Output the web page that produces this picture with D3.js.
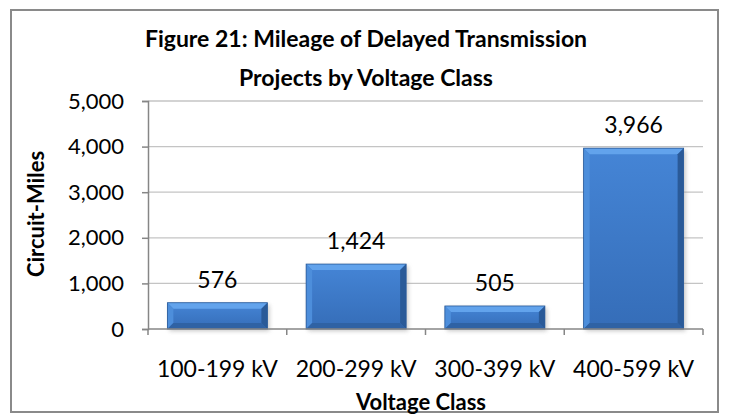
<!DOCTYPE html>
<html><head><meta charset="utf-8">
<script src="https://cdn.jsdelivr.net/npm/d3@7"></script>
<style>
html,body{margin:0;padding:0;background:#fff;}
text{font-family:Lato,"Open Sans",sans-serif;fill:#000;}
</style></head>
<body>
<svg id="chart" width="731" height="416"></svg>
<script>
const categories = ["100-199 kV","200-299 kV","300-399 kV","400-599 kV"];
const values = [576, 1424, 505, 3966];
const yTicks = [0,1000,2000,3000,4000,5000];
const titleLines = ["Figure 21: Mileage of Delayed Transmission","Projects by Voltage Class"];
const xTitle = "Voltage Class";
const yTitle = "Circuit-Miles";

const svg = d3.select("#chart");
const plot = {left:148, right:703, top:101, bottom:329};
const fmt = d3.format(",");

// chart border
svg.append("rect").attr("x",11).attr("y",10).attr("width",707).attr("height",402)
  .attr("fill","#fff").attr("stroke","#8a8a8a").attr("stroke-width",2);

const defs = svg.append("defs");
const g1 = defs.append("linearGradient").attr("id","body").attr("x1",0).attr("y1",0).attr("x2",0).attr("y2",1);
g1.append("stop").attr("offset","0%").attr("stop-color","#4585D6");
g1.append("stop").attr("offset","100%").attr("stop-color","#356DB8");
const f = defs.append("filter").attr("id","shadow").attr("x","-20%").attr("y","-20%").attr("width","140%").attr("height","160%");
f.append("feGaussianBlur").attr("stdDeviation",2.2);

const x = d3.scaleBand().domain(categories).range([plot.left, plot.right]).paddingInner(0.2793).paddingOuter(0.1397);
const y = d3.scaleLinear().domain([0,5000]).range([plot.bottom, plot.top]);

// gridlines
svg.append("g").selectAll("line").data(yTicks.filter(t=>t>0)).join("line")
  .attr("x1",plot.left).attr("x2",plot.right)
  .attr("y1",d=>y(d)).attr("y2",d=>y(d))
  .attr("stroke","#c4c4c4").attr("stroke-width",1.3);

// y axis
const yAxis = svg.append("g").attr("transform",`translate(${plot.left},0)`)
  .call(d3.axisLeft(y).tickValues(yTicks).tickFormat(fmt).tickSize(6).tickPadding(18));
yAxis.select(".domain").attr("stroke","#868686").attr("stroke-width",1.5);
yAxis.selectAll(".tick line").attr("stroke","#868686").attr("stroke-width",1.5);
yAxis.selectAll("text").attr("font-family","Lato").attr("font-size",22).attr("fill","#000");

// bars
const data = categories.map((c,i)=>({cat:c, value:values[i]}));
const bars = svg.append("g").selectAll("g").data(data).join("g");
bars.append("rect")
  .attr("x",d=>x(d.cat)+2).attr("y",d=>y(d.value)+2)
  .attr("width",x.bandwidth()).attr("height",d=>y(0)-y(d.value))
  .attr("fill","#9a9a9a").attr("opacity",0.55).attr("filter","url(#shadow)");
bars.append("rect")
  .attr("x",d=>x(d.cat)).attr("y",d=>y(d.value))
  .attr("width",x.bandwidth()).attr("height",d=>y(0)-y(d.value))
  .attr("fill","url(#body)");
const b = 6;
function poly(d, which){
  const x0 = x(d.cat), x1 = x0 + x.bandwidth(), y0 = y(d.value), y1 = y(0);
  const bb = Math.min(b, (y1-y0)/2);
  if (which==="top") return [[x0,y0],[x1,y0],[x1-bb,y0+bb],[x0+bb,y0+bb]];
  if (which==="left") return [[x0,y0],[x0+bb,y0+bb],[x0+bb,y1-bb],[x0,y1]];
  if (which==="right") return [[x1,y0],[x1,y1],[x1-bb,y1-bb],[x1-bb,y0+bb]];
  return [[x0,y1],[x0+bb,y1-bb],[x1-bb,y1-bb],[x1,y1]];
}
const bevel = {top:"#62A3EC", left:"#4D8EDB", right:"#2A5A98", bottom:"#2F62A4"};
Object.keys(bevel).forEach(k=>{
  bars.append("polygon").attr("points",d=>poly(d,k).map(p=>p.join(",")).join(" "))
    .attr("fill",bevel[k]);
});
bars.append("rect")
  .attr("x",d=>x(d.cat)).attr("y",d=>y(d.value))
  .attr("width",x.bandwidth()).attr("height",d=>y(0)-y(d.value))
  .attr("fill","none").attr("stroke","#2A5A98").attr("stroke-width",0.8);

// x axis
svg.append("line").attr("x1",plot.left).attr("x2",plot.right).attr("y1",y(0)).attr("y2",y(0))
  .attr("stroke","#868686").attr("stroke-width",1.5);
const bounds = categories.map(c=>x(c)-x.step()*x.paddingInner()/2).concat([plot.right]);
svg.append("g").selectAll("line").data(bounds).join("line")
  .attr("x1",d=>d).attr("x2",d=>d).attr("y1",y(0)).attr("y2",y(0)+6)
  .attr("stroke","#868686").attr("stroke-width",1.5);
svg.append("g").selectAll("text").data(categories).join("text")
  .attr("x",d=>x(d)+x.bandwidth()/2).attr("y",377)
  .attr("text-anchor","middle").attr("font-size",23).text(d=>d);

// data labels
bars.append("text")
  .attr("x",d=>x(d.cat)+x.bandwidth()/2).attr("y",d=>y(d.value)-15)
  .attr("text-anchor","middle").attr("font-size",23).text(d=>fmt(d.value));

// titles
svg.append("g").selectAll("text").data(titleLines).join("text")
  .attr("x",366).attr("y",(d,i)=>47+i*38.5)
  .attr("text-anchor","middle").attr("font-size",23).attr("font-weight","bold").text(d=>d);
svg.append("text").attr("x",421).attr("y",410).attr("text-anchor","middle")
  .attr("font-size",22).attr("font-weight","bold").text(xTitle);
svg.append("text").attr("transform","translate(44,214) rotate(-90)").attr("text-anchor","middle")
  .attr("font-size",22).attr("font-weight","bold").text(yTitle);
</script>
</body></html>
